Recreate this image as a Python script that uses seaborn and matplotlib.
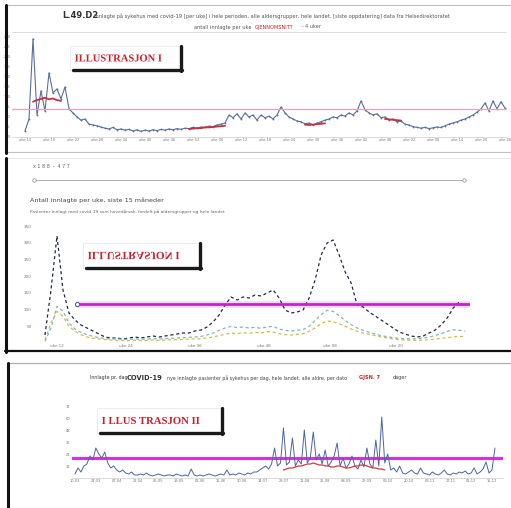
import pandas as pd
import matplotlib
matplotlib.use("Agg")
import matplotlib.pyplot as plt
import seaborn as sns
from matplotlib.patches import Rectangle, PathPatch
from matplotlib.lines import Line2D
from matplotlib.textpath import TextPath
from matplotlib.font_manager import FontProperties
from matplotlib.transforms import Affine2D

# ---- data: panel 1 (weekly series, whole period) ----
p1_vals = [15, 45, 245, 55, 115, 65, 160, 110, 120, 95, 125, 70, 60, 50, 42, 45, 32, 30, 28, 25,
           22, 20, 24, 18, 20, 17, 19, 15, 18, 14, 17, 15, 18, 16, 19, 17, 20, 18, 21, 19,
           22, 21, 24, 22, 25, 24, 27, 26, 30, 32, 35, 55, 48, 58, 45, 60, 50, 55, 42, 55,
           48, 52, 45, 55, 75, 60, 50, 45, 40, 38, 33, 35, 30, 35, 38, 42, 45, 50, 48, 55,
           52, 60, 55, 65, 90, 68, 60, 55, 58, 48, 50, 42, 45, 38, 40, 32, 30, 26, 24, 22,
           24, 21, 23, 25, 24, 28, 32, 35, 38, 42, 45, 50, 55, 62, 70, 85, 65, 90, 70, 88, 72]
p1_red_a_x = [2, 3, 4, 5, 6, 7, 8, 9]
p1_red_a = [88, 92, 95, 98, 94, 96, 92, 90]
p1_red_b_x = [41, 42, 43, 44, 45, 46, 47, 48, 49, 50]
p1_red_b = [20, 21, 22, 22, 24, 24, 25, 26, 27, 28]
p1_red_c_x = [70, 71, 72, 73, 74, 75]
p1_red_c = [31, 30, 31, 32, 33, 34]
p1_red_d_x = [90, 91, 92, 93, 94]
p1_red_d = [45, 44, 43, 42, 41]
p1_threshold = 70
p1_xlabels = ["uke 10", "uke 16", "uke 22", "uke 28", "uke 34", "uke 40", "uke 46", "uke 52",
              "uke 06", "uke 12", "uke 18", "uke 24", "uke 30", "uke 36", "uke 42", "uke 48",
              "uke 02", "uke 08", "uke 14", "uke 20", "uke 26"]

# ---- data: panel 2 (three series per week) ----
p2_total = [24, 159, 321, 159, 90, 69, 54, 45, 36, 27, 18, 15, 15, 12, 15, 18, 15, 18, 21, 18,
            21, 24, 27, 30, 30, 36, 39, 48, 63, 84, 114, 138, 129, 138, 135, 144, 141, 150, 159, 135,
            99, 90, 93, 99, 135, 189, 264, 300, 309, 264, 213, 180, 114, 108, 93, 81, 69, 57, 45, 33,
            27, 21, 18, 21, 30, 39, 54, 75, 105, 123, 108]
p2_olive = [10, 60, 95, 80, 50, 35, 25, 18, 14, 12, 10, 9, 8, 8, 7, 8, 7, 8, 9, 8,
            9, 10, 10, 11, 12, 12, 13, 15, 18, 22, 26, 30, 28, 31, 29, 32, 30, 34, 33, 28,
            25, 24, 26, 28, 35, 45, 58, 66, 64, 58, 50, 42, 35, 30, 26, 22, 18, 15, 12, 10,
            9, 8, 8, 9, 10, 12, 14, 16, 18, 20, 19]
p2_light = [5, 45, 110, 95, 60, 42, 32, 25, 20, 16, 14, 12, 12, 11, 11, 12, 11, 12, 13, 12,
            13, 14, 15, 16, 17, 18, 20, 24, 30, 38, 45, 50, 46, 48, 45, 47, 44, 48, 50, 42,
            38, 36, 38, 40, 50, 68, 85, 98, 95, 82, 68, 55, 45, 38, 32, 27, 22, 19, 16, 14,
            13, 12, 13, 15, 18, 22, 28, 35, 40, 38, 36]
p2_threshold = 117
p2_thr_span = [5.3, 70.8]
p2_xticks = [2, 13.5, 25, 36.5, 47.5, 58.5]
p2_xlabels = ["uke 12", "uke 24", "uke 36", "uke 48", "uke 08", "uke 20"]

# ---- data: panel 3 (daily series) ----
p3_vals = [4, 10, 6, 12, 14, 22, 18, 30, 24, 20, 26, 15, 10, 12, 8, 6, 8, 5, 4, 6,
           3, 3, 4, 3, 5, 3, 2, 3, 4, 3, 2, 3, 3, 2, 4, 3, 2, 3, 2, 9,
           3, 2, 3, 2, 3, 4, 3, 2, 3, 4, 3, 8, 3, 4, 3, 5, 4, 3, 5, 4,
           6, 6, 8, 10, 12, 9, 14, 30, 12, 15, 50, 13, 16, 40, 12, 18, 14, 48, 15, 20,
           46, 18, 24, 14, 28, 12, 16, 22, 35, 12, 20, 10, 14, 22, 12, 9, 18, 11, 30, 14,
           10, 38, 12, 61, 15, 24, 8, 10, 6, 12, 5, 4, 6, 8, 5, 4, 10, 5, 4, 3,
           6, 4, 3, 5, 8, 4, 3, 5, 4, 6, 5, 7, 4, 5, 10, 4, 6, 9, 16, 5,
           8, 30]
p3_red_x = list(range(70, 105))
p3_red = [8, 9, 10, 10, 11, 12, 12, 13, 14, 14, 15, 14, 13, 13, 12, 12, 11, 11, 12, 12,
          11, 10, 10, 11, 12, 12, 13, 13, 12, 11, 10, 10, 9, 9, 8]
p3_threshold = 20
p3_xlabels = ["10.03", "24.03", "07.04", "21.04", "05.05", "19.05", "02.06", "16.06", "30.06", "14.07",
              "28.07", "11.08", "25.08", "08.09", "22.09", "06.10", "20.10", "03.11", "17.11", "01.12", "15.12"]

W, H = 511, 508
RED = "#c8202c"

sns.set_style("white")
plt.rcParams["font.family"] = ["DejaVu Sans"]
fig = plt.figure(figsize=(W / 100, H / 100), dpi=100)


def add_ax(x0, y0, x1, y1):
    ax = fig.add_axes([x0 / W, 1 - y1 / H, (x1 - x0) / W, (y1 - y0) / H])
    ax.patch.set_alpha(0)
    return ax


def hline(x0, x1, y, **kw):
    fig.add_artist(Line2D([x0 / W, x1 / W], [1 - y / H, 1 - y / H], transform=fig.transFigure, **kw))


def vline(x, y0, y1, **kw):
    fig.add_artist(Line2D([x / W, x / W], [1 - y0 / H, 1 - y1 / H], transform=fig.transFigure, **kw))


def ftext(x, y, s, **kw):
    fig.text(x / W, 1 - y / H, s, **kw)


def label_box(x0, y0, x1, y1, text, flip=False):
    fig.add_artist(Rectangle((x0 / W, 1 - y1 / H), (x1 - x0) / W, (y1 - y0) / H,
                             transform=fig.transFigure, facecolor="white", edgecolor="#e6e6e6", lw=0.5))
    hline(x0 + 3, x1 + 1, y1, color="#1a1a1a", lw=2.4)
    vline(x1, y0, y1 + 1, color="#1a1a1a", lw=2.4)
    prop = FontProperties(family="Liberation Serif", weight="bold")
    tp = TextPath((0, 0), text, size=10, prop=prop)
    bb = tp.get_extents()
    tw = (x1 - x0) * 0.78
    s = tw / bb.width
    th = bb.height * s
    left = x0 + 5
    if flip:
        top = (y0 + y1) / 2 - th / 2
        tr = Affine2D().translate(-bb.x0, -bb.y0).scale(s, -s).translate(left, H - top)
    else:
        bottom = (y0 + y1) / 2 + th / 2
        tr = Affine2D().translate(-bb.x0, -bb.y0).scale(s, s).translate(left, H - bottom)
    fig.add_artist(PathPatch(tp, transform=tr, facecolor=RED, edgecolor="none"))


def tiny_axes(ax, fs=2.8):
    ax.tick_params(axis="both", labelsize=fs, colors="#777777", length=0, pad=1)
    for sp in ["left", "right", "top"]:
        ax.spines[sp].set_visible(False)
    ax.spines["bottom"].set_color("#cccccc")
    ax.spines["bottom"].set_linewidth(0.5)
    ax.set_xlabel("")
    ax.set_ylabel("")


# ================= panel 1 =================
hline(5, 511, 5, color="#c0c0c0", lw=0.8)
hline(5, 511, 152, color="#c0c0c0", lw=0.8)
vline(6, 5, 153, color="#111111", lw=2.2)

ftext(62, 16, "L.49.D2", fontsize=6, fontweight="bold", color="#333333", va="center")
ftext(94, 16, "Innlagte på sykehus med covid-19 [per uke] i hele perioden, alle aldersgrupper, hele landet, "
              "[siste oppdatering] data fra Helsedirektoratet",
      fontsize=3.7, color="#555555", va="center")
ftext(255, 27, "antall innlagte per uke  ", fontsize=3.6, color="#555555", va="center", ha="right")
ftext(255, 27, "GJENNOMSNITT", fontsize=3.6, color=RED, va="center", ha="left")
ftext(300, 27, " - 4 uker", fontsize=3.6, color="#555555", va="center", ha="left")

ax1 = add_ax(12, 32, 507, 137)
df1 = pd.DataFrame({"uke": range(len(p1_vals)), "antall": p1_vals})
sns.lineplot(data=df1, x="uke", y="antall", color="#5a6f9c", lw=0.8, marker="o",
             markersize=1.3, markeredgewidth=0, ax=ax1)
for rx, ry in [(p1_red_a_x, p1_red_a), (p1_red_b_x, p1_red_b), (p1_red_c_x, p1_red_c), (p1_red_d_x, p1_red_d)]:
    sns.lineplot(x=rx, y=ry, color="#c8303c", lw=1.3, ax=ax1)
ax1.axhline(p1_threshold, color="#e8a0c4", lw=0.9)
ax1.axhline(262, color="#d8d8d8", lw=0.6)
ax1.set_xlim(-3.25, 120.5)
ax1.set_ylim(0, 262)
ax1.set_yticks(range(0, 251, 25))
ax1.set_xticks(range(0, 121, 6))
ax1.set_xticklabels(p1_xlabels)
tiny_axes(ax1, 2.6)
label_box(70, 46, 181, 70, "ILLUSTRASJON I")

# ================= panel 2 =================
hline(5, 511, 158, color="#e0e0e0", lw=0.6)
vline(6, 158, 352, color="#111111", lw=2.2)
hline(5, 511, 351, color="#111111", lw=1.6)

ftext(33, 166, "x 1 8 8  -  4 7 7", fontsize=3.5, color="#666666", va="center")
hline(34, 464, 180, color="#a0a0a0", lw=0.6)
fig.add_artist(Line2D([34 / W, 464 / W], [1 - 180 / H, 1 - 180 / H], transform=fig.transFigure,
                      lw=0, marker="o", markersize=2.5, mfc="white", mec="#888888", mew=0.5))
ftext(30, 200, "Antall innlagte per uke, siste 15 måneder", fontsize=4.6, color="#444444", va="center")
ftext(30, 212, "Pasienter innlagt med covid-19 som hovedårsak, fordelt på aldersgrupper og hele landet",
      fontsize=3.2, color="#666666", va="center")

ax2 = add_ax(40, 225, 470, 343)
df2 = pd.DataFrame({"uke": list(range(len(p2_total))) * 3,
                    "antall": p2_total + p2_olive + p2_light,
                    "gruppe": ["alle"] * len(p2_total) + ["80+"] * len(p2_olive) + ["60-79"] * len(p2_light)})
ax2.plot(p2_thr_span, [p2_threshold] * 2, color="#f0a0f0", lw=5, alpha=0.35, solid_capstyle="butt")
sns.lineplot(data=df2, x="uke", y="antall", hue="gruppe",
             palette={"alle": "#1e2a48", "80+": "#d4bc48", "60-79": "#80b4cc"},
             lw=0.9, dashes=False, legend=False, ax=ax2)
for ln in ax2.get_lines()[1:]:
    ln.set_linestyle((0, (2.5, 2.2)))
ax2.plot(p2_thr_span, [p2_threshold] * 2, color="#c224c8", lw=2)
ax2.plot(p2_thr_span[:1], [p2_threshold], "o", mfc="white", mec="#4a6aa0", ms=3, mew=0.8)
ax2.set_xlim(-0.83, 70.8)
ax2.set_ylim(0, 354)
ax2.set_yticks(range(50, 351, 50))
ax2.set_xticks(p2_xticks)
ax2.set_xticklabels(p2_xlabels)
tiny_axes(ax2, 3.0)
ax2.spines["bottom"].set_visible(False)
ax2.tick_params(axis="y", pad=6)
label_box(83, 243, 200, 268, "ILLUSTRASJON I", flip=True)

# ================= panel 3 =================
hline(7, 511, 363, color="#b0b0b0", lw=0.9)
vline(8, 363, 508, color="#111111", lw=2.2)

ftext(90, 378, "Innlagte pr. dag", fontsize=3.4, color="#333333", va="center")
ftext(127, 378, "COVID-19", fontsize=4.8, fontweight="bold", color="#333333", va="center")
ftext(167, 378, "nye innlagte pasienter på sykehus per dag, hele landet, alle aldre, per dato",
      fontsize=3.4, color="#444444", va="center")
ftext(359, 378, "GJSN. 7", fontsize=3.6, fontweight="bold", color=RED, va="center")
ftext(393, 378, "dager", fontsize=3.6, color="#444444", va="center")

ax3 = add_ax(72, 392, 503, 478)
df3 = pd.DataFrame({"dag": range(len(p3_vals)), "antall": p3_vals})
ax3.axhline(p3_threshold, color="#d830e0", lw=2.2)
sns.lineplot(data=df3, x="dag", y="antall", color="#4d64a4", lw=0.7, ax=ax3)
sns.lineplot(x=p3_red_x, y=p3_red, color="#d03c3c", lw=0.9, ax=ax3)
ax3.set_xlim(-1, 143.7)
ax3.set_ylim(0, 86)
ax3.set_yticks(range(12, 73, 12))
ax3.set_xticks(range(0, 142, 7))
ax3.set_xticklabels(p3_xlabels)
tiny_axes(ax3, 2.6)
label_box(97, 408, 222, 433, "I LLUS TRASJON II")

fig.savefig("out.png", dpi=100, facecolor="white")
